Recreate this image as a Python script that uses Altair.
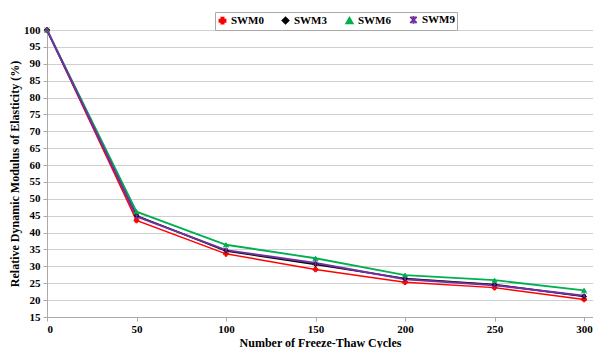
import altair as alt
import pandas as pd

cycles = [0, 50, 100, 150, 200, 250, 300]
swm0 = [100, 43.6, 33.7, 29.1, 25.3, 23.7, 20.2]
swm3 = [100, 45.0, 34.6, 30.6, 26.4, 24.6, 21.1]
swm6 = [100, 46.2, 36.4, 32.4, 27.4, 25.9, 22.9]
swm9 = [100, 44.8, 34.8, 31.0, 26.2, 24.4, 21.3]
series_names = ["SWM0", "SWM3", "SWM6", "SWM9"]
series_vals = [swm0, swm3, swm6, swm9]
colors = ["#ff0000", "#000000", "#00b050", "#7030a0"]
shapes = ["cross", "diamond", "triangle-up",
          "M-1,-1L1,1M-1,1L1,-1M0,-1.2L0,1.2"]
widths = [1.5, 2, 1.5, 2.5]

rows = []
for i, (name, vals) in enumerate(zip(series_names, series_vals)):
    for c, v in zip(cycles, vals):
        rows.append({"cycles": c, "value": v, "series": name,
                     "marker": name, "order": i})
df = pd.DataFrame(rows)

font = "Liberation Serif"
xscale = alt.Scale(domain=[0, 305], nice=False)
yscale = alt.Scale(domain=[15, 100], nice=False)
cscale = alt.Scale(domain=series_names, range=colors)
shscale = alt.Scale(domain=series_names, range=shapes)

leg = alt.Legend(title=None, orient="none", direction="horizontal",
                 legendX=168, legendY=-18,
                 strokeColor="#aaaaaa", padding=2,
                 labelFont=font, labelFontWeight="bold",
                 labelFontSize=11, labelColor="#000000",
                 symbolSize=40, symbolStrokeWidth=1.3,
                 columnPadding=15, labelOffset=3)

base = alt.Chart(df)
xenc = alt.X("cycles:Q", scale=xscale,
             axis=alt.Axis(values=cycles, title="Number of Freeze-Thaw Cycles",
                           grid=False))
yenc = alt.Y("value:Q", scale=yscale,
             axis=alt.Axis(values=list(range(15, 101, 5)),
                           title="Relative Dynamic Modulus of Elasticity (%)"))

lines = base.mark_line().encode(
    x=xenc, y=yenc,
    color=alt.Color("series:N", scale=cscale, legend=leg),
    strokeWidth=alt.StrokeWidth("series:N",
                                scale=alt.Scale(domain=series_names, range=widths),
                                legend=None),
    order="order:Q",
    detail="series:N",
)

points = base.mark_point(filled=True, size=22, strokeWidth=1, opacity=1).encode(
    x=xenc, y=yenc,
    fill=alt.Fill("marker:N", scale=cscale, legend=None),
    stroke=alt.Stroke("marker:N", scale=cscale, legend=None),
    shape=alt.Shape("marker:N", scale=shscale, legend=None),
)

chart = (lines + points).properties(
    width=546, height=287,
    autosize=alt.AutoSizeParams(type="none"),
    padding={"left": 39, "top": 22, "right": 0, "bottom": 31},
).configure_view(stroke=None).configure_axis(
    labelFont=font, labelFontWeight="bold", labelFontSize=11, labelColor="#000000",
    titleFont=font, titleFontWeight="bold", titleFontSize=12, titleColor="#000000",
    domainColor="#aaaaaa", tickColor="#aaaaaa", gridColor="#d0d0d0", tickSize=4,
).configure_axisY(titlePadding=2, labelPadding=3).configure_axisX(titlePadding=3, labelPadding=2)

chart.save("out.html", embed_options={"renderer": "svg", "actions": False})
